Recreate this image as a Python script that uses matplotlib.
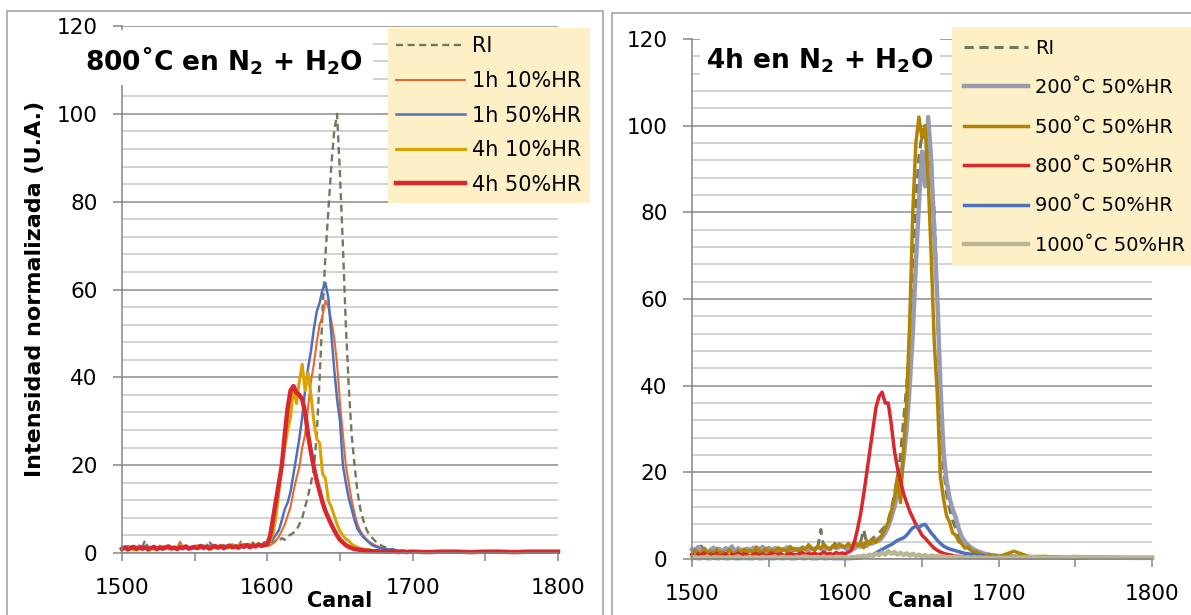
import matplotlib
matplotlib.use("Agg")
import matplotlib.pyplot as plt
from matplotlib.patches import Rectangle
from matplotlib.ticker import MultipleLocator

plt.rcParams["font.family"] = ["DejaVu Sans"]
plt.rcParams["mathtext.fontset"] = "dejavusans"

# ---------------------------------------------------------------- data
# channel axis: every 2 channels up to 1700, then every 10 channels
channels = list(range(1500, 1701, 2)) + list(range(1710, 1801, 10))

x_tick_values = [1500, 1550, 1600, 1650, 1700, 1750, 1800]
x_tick_labels = ["1500", "", "1600", "", "1700", "", "1800"]
y_tick_values = [0, 20, 40, 60, 80, 100, 120]

# panel 1: 800 C in N2 + H2O
labels_800 = ["RI", "1h 10%HR", "1h 50%HR", "4h 10%HR", "4h 50%HR"]

ri_800 = [
    0.8, 1.2, 0.9, 1.4, 1.0, 1.3, 0.9, 1.5, 2.9, 1.1,
    1.0, 1.4, 0.8, 1.2, 1.5, 1.0, 1.3, 0.9, 1.4, 1.1,
    1.2, 0.9, 1.6, 1.1, 1.3, 1.0, 1.5, 1.2, 1.7, 1.3,
    2.8, 1.4, 1.1, 1.6, 1.2, 1.8, 1.4, 1.3, 1.9, 1.5,
    1.6, 2.6, 1.4, 2.0, 1.7, 2.4, 1.6, 2.2, 1.9, 2.5,
    2.2, 2.6, 2.4, 2.9, 2.7, 3.4, 3.0, 3.8, 4.2, 4.6,
    5.2, 6.5, 8.0, 10.5, 13, 16, 19, 27, 40, 55,
    68, 78, 88, 96, 100, 86, 70, 52, 38, 27,
    20, 14, 10, 7.5, 5.5, 4.2, 3.5, 2.8, 2.2, 1.8,
    1.4, 1.2, 1.0, 0.8, 0.7, 0.6, 0.5, 0.5, 0.4, 0.4,
    0.4,
    0.3, 0.3, 0.2, 0.3, 0.2, 0.2, 0.3, 0.2, 0.2, 0.2,
]

h1_10 = [
    1.0, 1.4, 0.8, 1.2, 0.9, 1.5, 1.1, 0.8, 1.3, 1.0,
    1.2, 0.9, 1.4, 1.1, 1.6, 1.0, 1.3, 0.9, 1.5, 1.2,
    2.6, 1.1, 1.4, 1.0, 1.3, 1.6, 1.1, 1.4, 1.2, 1.7,
    1.3, 1.0, 1.5, 1.2, 1.6, 1.3, 1.1, 1.7, 1.4, 1.2,
    1.6, 1.3, 1.8, 1.4, 1.2, 1.7, 1.5, 2.0, 1.6, 1.8,
    1.6, 1.8, 2.2, 2.8, 3.8, 5.0, 6.5, 8.5, 10.5, 14,
    17, 19.5, 24, 27, 33, 39, 43, 48, 52, 54,
    57.5, 56, 53, 49, 43, 34, 27, 20, 16, 12,
    9.0, 6.5, 5.0, 4.0, 3.2, 2.6, 2.2, 1.8, 1.5, 1.2,
    1.0, 0.9, 0.8, 0.7, 0.6, 0.5, 0.5, 0.4, 0.4, 0.3,
    0.3,
    0.3, 0.2, 0.3, 0.2, 0.2, 0.3, 0.2, 0.2, 0.2, 0.2,
]

h1_50 = [
    1.3, 0.9, 1.6, 1.1, 1.4, 1.0, 1.7, 1.2, 0.9, 1.5,
    1.1, 1.4, 1.0, 1.3, 0.8, 1.2, 1.5, 1.1, 1.3, 1.0,
    1.4, 1.2, 1.6, 1.1, 1.3, 1.5, 1.0, 1.4, 1.7, 1.2,
    1.5, 1.9, 1.3, 1.6, 1.2, 1.8, 1.4, 1.7, 1.3, 1.5,
    1.8, 1.4, 2.0, 1.6, 1.3, 1.9, 1.6, 2.2, 1.7, 1.9,
    2.0, 2.6, 3.2, 4.2, 5.2, 7.5, 10, 11.5, 14, 18,
    22, 26, 31, 37, 42, 46, 51, 55, 57, 60,
    61.5, 58, 50, 42, 35, 30, 20, 16, 12.5, 10,
    7.5, 5.5, 4.5, 3.6, 3.0, 2.4, 1.8, 1.5, 1.3, 1.1,
    1.0, 0.9, 0.8, 0.9, 0.6, 0.5, 0.5, 0.4, 0.4, 0.3,
    0.3,
    0.3, 0.3, 0.2, 0.2, 0.3, 0.2, 0.2, 0.2, 0.2, 0.2,
]

h4_10 = [
    0.8, 1.2, 1.0, 1.5, 0.7, 1.1, 1.4, 0.9, 1.2, 1.0,
    1.3, 0.8, 1.1, 1.6, 1.0, 1.3, 0.9, 1.4, 1.1, 1.2,
    1.0, 1.5, 1.2, 0.9, 1.4, 1.1, 1.7, 1.2, 1.0, 1.5,
    1.3, 1.6, 1.1, 1.4, 1.8, 1.2, 1.5, 1.1, 1.9, 1.4,
    1.6, 2.1, 1.3, 1.7, 2.0, 1.5, 1.8, 2.2, 1.6, 1.9,
    2.0, 2.8, 4.5, 8.5, 14, 20, 24, 28, 31, 38,
    34, 39, 43, 37, 41, 36, 30, 26, 25, 18,
    17, 12, 10.5, 8.5, 6.5, 5.0, 4.0, 3.2, 2.8, 2.0,
    1.6, 1.3, 1.0, 0.9, 0.8, 0.7, 0.6, 0.5, 0.5, 0.4,
    0.4, 0.4, 0.3, 0.4, 0.3, 0.3, 0.3, 0.3, 0.2, 0.3,
    0.2,
    0.2, 0.3, 0.2, 0.2, 0.2, 0.2, 0.3, 0.2, 0.2, 0.2,
]

h4_50 = [
    0.9, 1.3, 0.8, 1.1, 1.4, 0.9, 1.2, 1.0, 1.3, 0.8,
    1.1, 1.4, 0.9, 1.2, 1.0, 1.3, 1.5, 1.0, 1.2, 0.9,
    1.3, 1.1, 1.5, 1.0, 1.2, 1.4, 1.1, 1.6, 1.2, 1.4,
    1.0, 1.3, 1.6, 1.2, 1.5, 1.1, 1.4, 1.7, 1.3, 1.5,
    1.2, 1.6, 1.4, 1.8, 1.3, 1.7, 1.5, 1.9, 1.6, 1.8,
    2.0, 4.0, 8.0, 12, 16, 20, 27, 33, 37, 38,
    36.5, 36, 35, 32, 27, 23, 19.5, 16.5, 14, 11.5,
    9.5, 8.0, 6.5, 5.2, 4.0, 3.0, 2.4, 1.8, 1.4, 1.1,
    0.9, 0.8, 0.7, 0.6, 0.5, 0.5, 0.4, 0.4, 0.4, 0.3,
    0.4, 0.3, 0.3, 0.4, 0.3, 0.2, 0.3, 0.3, 0.2, 0.3,
    0.3,
    0.2, 0.3, 0.3, 0.2, 0.3, 0.3, 0.2, 0.3, 0.3, 0.3,
]

# panel 2: 4 h in N2 + H2O at 50 %HR
labels_4h = ["RI", "200˚C 50%HR", "500˚C 50%HR", "800˚C 50%HR",
             "900˚C 50%HR", "1000˚C 50%HR"]

ri_4h = [
    1.8, 2.4, 1.6, 3.0, 2.0, 1.5, 2.2, 1.7, 2.5, 1.9,
    1.6, 2.3, 1.8, 2.1, 1.5, 2.6, 2.0, 1.7, 2.4, 1.9,
    2.2, 1.6, 2.5, 2.0, 1.8, 2.7, 2.1, 1.9, 2.3, 1.7,
    2.4, 2.0, 2.8, 2.2, 1.9, 2.5, 2.3, 2.1, 2.7, 2.4,
    2.0, 2.6, 6.8, 2.5, 3.0, 2.4, 2.9, 4.0, 2.6, 3.2,
    2.5, 3.0, 2.6, 3.4, 3.0, 4.0, 6.8, 3.5, 4.2, 4.8,
    5.5, 6.0, 6.8, 7.5, 9.0, 11.5, 15, 19, 24, 32,
    40, 52, 66, 82, 93, 98, 100, 98, 90, 80,
    60, 32, 21, 15, 11.5, 9.0, 7.0, 5.2, 4.0, 3.2,
    2.5, 2.0, 1.6, 1.3, 1.1, 0.9, 0.8, 0.7, 0.6, 0.6,
    0.5,
    0.4, 0.4, 0.3, 0.3, 0.3, 0.3, 0.2, 0.3, 0.2, 0.2,
]

t200 = [
    2.2, 1.6, 2.8, 1.9, 2.4, 1.5, 2.1, 2.6, 1.8, 2.3,
    1.7, 2.5, 2.0, 2.9, 1.8, 2.3, 2.1, 1.6, 2.4, 2.0,
    2.6, 1.9, 2.2, 2.8, 1.7, 2.4, 2.0, 2.5, 1.8, 2.3,
    2.1, 2.7, 1.9, 2.4, 2.2, 1.8, 2.6, 2.3, 2.0, 2.5,
    2.2, 2.8, 2.4, 2.0, 2.6, 2.3, 2.9, 2.5, 2.7, 3.0,
    2.5, 2.0, 3.0, 2.4, 3.2, 2.8, 3.5, 3.0, 4.0, 3.6,
    4.5, 4.2, 5.0, 6.0, 7.5, 9.5, 12, 15, 18, 23,
    30, 40, 52, 68, 82, 94, 86, 102, 92, 75,
    60, 40, 25, 18, 14, 11.5, 9.5, 7.0, 5.0, 4.0,
    3.2, 2.6, 2.2, 1.8, 1.6, 1.3, 1.1, 1.0, 0.9, 0.8,
    0.7,
    0.6, 0.5, 0.4, 0.4, 0.3, 0.4, 0.3, 0.3, 0.3, 0.3,
]

t500 = [
    1.2, 2.0, 1.5, 1.0, 2.4, 1.3, 1.8, 1.1, 2.1, 1.4,
    1.7, 1.0, 2.2, 1.5, 1.2, 1.9, 1.4, 2.3, 1.6, 2.0,
    1.3, 2.8, 1.8, 1.4, 2.5, 1.7, 2.1, 1.5, 2.6, 1.9,
    2.2, 1.6, 2.9, 2.0, 2.4, 1.8, 2.7, 2.2, 3.3, 2.5,
    2.0, 3.0, 2.4, 3.4, 2.6, 2.2, 3.1, 2.7, 3.5, 2.9,
    2.8, 3.6, 2.5, 4.0, 3.0, 3.8, 2.6, 4.2, 3.4, 4.5,
    3.8, 4.8, 5.5, 7.0, 8.5, 11, 14, 19, 13, 26,
    36, 55, 80, 96, 102, 97, 100, 88, 70, 50,
    38, 19, 14, 10, 8.5, 6.0, 5.5, 4.0, 3.5, 2.5,
    2.8, 2.0, 1.5, 1.6, 1.1, 1.0, 0.8, 0.9, 0.6, 0.7,
    0.5,
    1.8, 0.5, 0.6, 0.4, 0.4, 0.3, 0.4, 0.3, 0.3, 0.3,
]

t800 = [
    1.0, 0.6, 1.2, 0.8, 1.4, 0.7, 1.1, 0.9, 1.3, 0.6,
    1.0, 1.2, 0.7, 1.1, 0.9, 1.3, 0.8, 1.2, 1.0, 0.7,
    1.1, 1.3, 0.9, 1.2, 0.8, 1.0, 1.4, 0.9, 1.1, 1.2,
    0.8, 1.0, 1.3, 1.1, 0.9, 1.2, 1.5, 1.0, 1.3, 1.1,
    1.4, 1.0, 1.2, 1.6, 1.1, 1.3, 1.0, 1.5, 1.2, 1.4,
    1.2, 1.6, 2.0, 4.0, 7.0, 10.5, 15, 20, 25, 30,
    35, 37.5, 38.5, 36, 36, 31, 25, 21, 18, 15,
    13, 11, 9.5, 8.0, 6.8, 5.5, 4.8, 4.0, 3.2, 2.5,
    2.0, 1.6, 1.3, 1.1, 1.0, 0.8, 0.7, 0.6, 0.6, 0.5,
    0.5, 0.5, 0.4, 0.4, 0.4, 0.4, 0.3, 0.4, 0.3, 0.3,
    0.3,
    0.3, 0.2, 0.3, 0.2, 0.2, 0.3, 0.2, 0.2, 0.2, 0.2,
]

t900 = [
    0.1, 0.2, 0.1, 0.1, 0.2, 0.1, 0.1, 0.2, 0.1, 0.1,
    0.2, 0.1, 0.1, 0.2, 0.1, 0.1, 0.1, 0.2, 0.1, 0.1,
    0.1, 0.2, 0.1, 0.1, 0.2, 0.1, 0.1, 0.1, 0.2, 0.1,
    0.1, 0.2, 0.1, 0.1, 0.1, 0.2, 0.1, 0.1, 0.2, 0.1,
    0.1, 0.1, 0.2, 0.1, 0.1, 0.2, 0.1, 0.1, 0.1, 0.1,
    0.1, 0.1, 0.1, 0.15, 0.2, 0.3, 0.45, 0.6, 0.8, 1.0,
    1.4, 1.8, 2.2, 2.6, 3.0, 3.3, 3.8, 4.3, 4.6, 4.9,
    5.5, 6.4, 7.2, 7.5, 7.3, 7.8, 8.0, 7.0, 6.0, 5.2,
    4.3, 3.6, 3.0, 2.6, 2.3, 2.1, 1.9, 1.7, 1.5, 1.3,
    1.2, 1.1, 1.0, 0.9, 0.8, 0.7, 0.6, 0.5, 0.5, 0.45,
    0.4,
    0.35, 0.3, 0.3, 0.25, 0.25, 0.2, 0.2, 0.2, 0.2, 0.2,
]

t1000 = [
    0.3, 0.5, 0.2, 0.4, 0.3, 0.6, 0.2, 0.4, 0.5, 0.3,
    0.4, 0.2, 0.5, 0.3, 0.4, 0.6, 0.3, 0.2, 0.4, 0.5,
    0.3, 0.4, 0.2, 0.5, 0.3, 0.4, 0.3, 0.6, 0.2, 0.4,
    0.5, 0.3, 0.4, 0.2, 0.5, 0.3, 0.4, 0.6, 0.3, 0.4,
    0.2, 0.5, 0.3, 0.4, 0.3, 0.5, 0.4, 0.3, 0.5, 0.4,
    0.4, 0.3, 0.5, 0.4, 0.6, 0.5, 0.8, 0.6, 1.0, 0.7,
    1.2, 0.9, 1.5, 1.0, 1.8, 1.2, 1.6, 1.0, 1.4, 0.9,
    1.3, 0.8, 1.2, 0.7, 1.0, 0.6, 0.9, 0.5, 0.8, 0.6,
    0.7, 0.5, 0.6, 0.4, 0.5, 0.4, 0.6, 0.3, 0.5, 0.3,
    0.4, 0.3, 0.4, 0.3, 0.35, 0.3, 0.3, 0.25, 0.3, 0.25,
    0.3,
    0.3, 0.4, 0.3, 0.3, 0.5, 0.3, 0.3, 0.3, 0.25, 0.25,
]

# ---------------------------------------------------------------- figure
W, H = 1191, 615
fig = plt.figure(figsize=(W / 100, H / 100), dpi=100)
fig.patch.set_facecolor("white")


def fx(px):
    return px / W


def fy(py):
    return 1 - py / H


ax1 = fig.add_axes([fx(122), fy(553), fx(558) - fx(122), fy(26) - fy(553)])
ax2 = fig.add_axes([fx(692), fy(559), fx(1152) - fx(692), fy(39) - fy(559)])

AXIS_GREY = "#868686"


def style_axes(ax):
    ax.set_xlim(1500, 1800)
    ax.set_ylim(0, 120)
    ax.set_xticks(x_tick_values)
    ax.set_xticklabels(x_tick_labels)
    ax.set_yticks(y_tick_values)
    ax.yaxis.set_minor_locator(MultipleLocator(4))
    ax.grid(axis="y", which="major", color="#8C8C8C", lw=1.1)
    ax.grid(axis="y", which="minor", color="#C6C6C6", lw=1.1)
    ax.set_axisbelow(True)
    for s in ("top", "right"):
        ax.spines[s].set_visible(False)
    for s in ("left", "bottom"):
        ax.spines[s].set_color(AXIS_GREY)
        ax.spines[s].set_linewidth(1.1)
    ax.tick_params(axis="both", which="major", direction="out",
                   color=AXIS_GREY, width=1.1, labelsize=15.5,
                   labelcolor="black")
    ax.tick_params(axis="y", which="major", length=6.5, pad=11)
    ax.tick_params(axis="x", which="major", length=6, pad=12)
    ax.tick_params(axis="y", which="minor", length=0)


style_axes(ax1)
style_axes(ax2)

DASH = (3.0, 1.9)

# left panel curves
styles_800 = [
    dict(color="#75775A", lw=1.7, dashes=DASH),
    dict(color="#E8692D", lw=1.5),
    dict(color="#4F70BD", lw=1.8),
    dict(color="#DBA300", lw=2.2),
    dict(color="#D9272D", lw=3.2),
]
for ys, lab, st in zip([ri_800, h1_10, h1_50, h4_10, h4_50], labels_800, styles_800):
    ax1.plot(channels, ys, label=lab, clip_on=False, solid_joinstyle="round", **st)

# right panel curves
styles_4h = [
    dict(color="#75775A", lw=2.2, dashes=DASH),
    dict(color="#989CB3", lw=3.2),
    dict(color="#B08400", lw=2.5),
    dict(color="#D9272D", lw=2.5),
    dict(color="#4F70BD", lw=2.5),
    dict(color="#B9B692", lw=3.2),
]
for ys, lab, st in zip([ri_4h, t200, t500, t800, t900, t1000], labels_4h, styles_4h):
    ax2.plot(channels, ys, label=lab, clip_on=False, solid_joinstyle="round", **st)

LEG_BG = "#FDEFC6"
leg_common = dict(loc="upper left", bbox_transform=fig.transFigure,
                  frameon=True, fancybox=False, facecolor=LEG_BG,
                  edgecolor="none", framealpha=1,
                  handlelength=3.3, handletextpad=0.35, borderaxespad=0)
ax1.legend(bbox_to_anchor=(fx(388), fy(28)), fontsize=15, labelspacing=0.70,
           borderpad=0.4, **leg_common)
ax2.legend(bbox_to_anchor=(fx(952), fy(27)), fontsize=14, labelspacing=1.05,
           borderpad=0.6, **leg_common)

# white boxes behind the in-plot titles
fig.patches.append(Rectangle((fx(101), fy(85)), fx(373) - fx(101), fy(30) - fy(85),
                             transform=fig.transFigure, facecolor="white",
                             edgecolor="none", zorder=3))
fig.patches.append(Rectangle((fx(700), fy(85)), fx(940) - fx(700), fy(36) - fy(85),
                             transform=fig.transFigure, facecolor="white",
                             edgecolor="none", zorder=3))
fig.text(fx(224), fy(61), r"800˚C en N$_\mathbf{2}$ + H$_\mathbf{2}$O",
         fontsize=19, fontweight="bold", ha="center", va="center", zorder=4)
fig.text(fx(820), fy(61), r"4h en N$_\mathbf{2}$ + H$_\mathbf{2}$O",
         fontsize=19, fontweight="bold", ha="center", va="center", zorder=4)

# axis titles
fig.text(fx(35), fy(289), "Intensidad normalizada (U.A.)", rotation=90,
         fontsize=16, fontweight="bold", ha="center", va="center")
fig.text(fx(340), fy(601), "Canal", fontsize=15, fontweight="bold",
         ha="center", va="center")
fig.text(fx(921), fy(601), "Canal", fontsize=15, fontweight="bold",
         ha="center", va="center")

# panel frames (open at the bottom edge)
fig.patches.append(Rectangle((fx(7), fy(640)), fx(603) - fx(7), fy(11) - fy(640),
                             transform=fig.transFigure, fill=False,
                             edgecolor="#A6A6A6", lw=1.2, zorder=5))
fig.patches.append(Rectangle((fx(612), fy(640)), fx(1210) - fx(612), fy(12.5) - fy(640),
                             transform=fig.transFigure, fill=False,
                             edgecolor="#A6A6A6", lw=1.2, zorder=5))

fig.savefig("out.png", dpi=100, facecolor="white")
